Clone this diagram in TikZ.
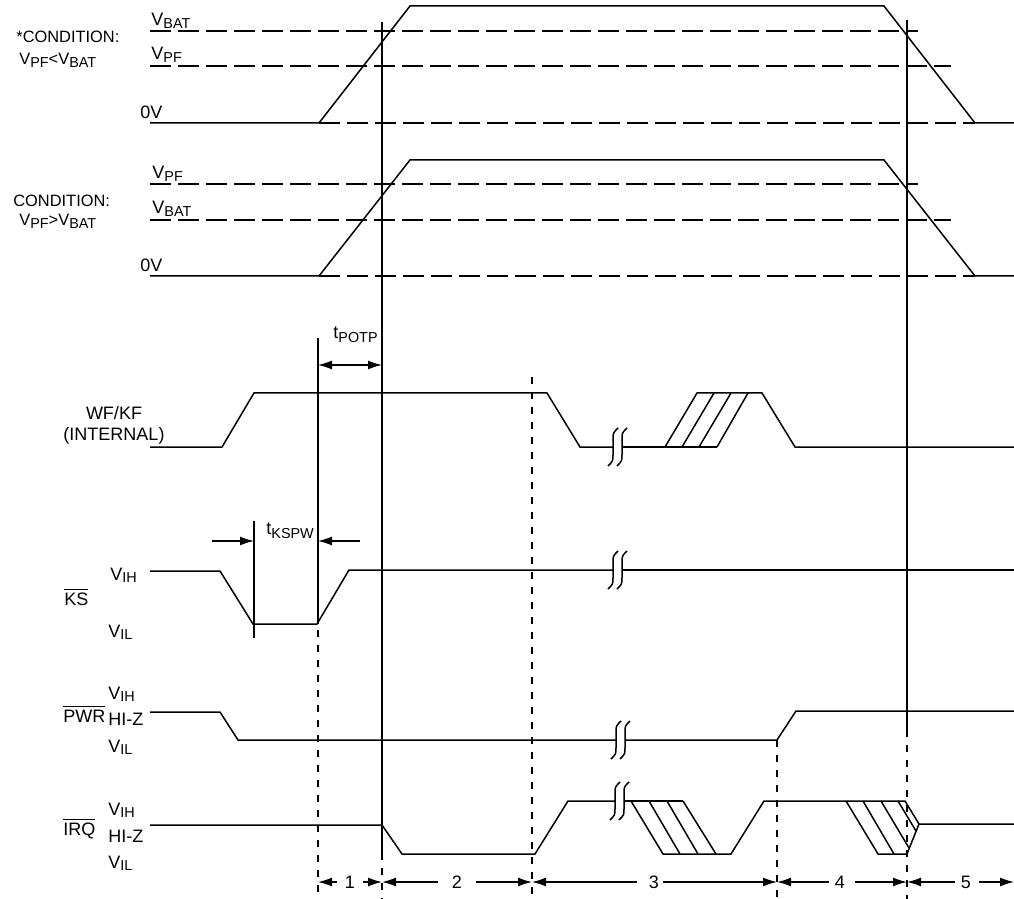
\documentclass[tikz,border=0pt]{standalone}
\usepackage{fontspec}
\setmainfont{Liberation Sans}
\usetikzlibrary{arrows.meta}
\newcommand\sub[1]{\raisebox{-1.2pt}{\fontsize{7.2}{8}\selectfont #1}}
\newcommand\tsub[1]{\raisebox{-2pt}{\fontsize{7.2}{8}\selectfont #1}}
\newcommand\ovl[1]{$\overline{\hbox{#1}}$}
\begin{document}
\begin{tikzpicture}[x=0.5pt,y=-0.5pt,
  wave/.style={line width=0.75pt, line join=miter},
  lvl/.style={line width=0.65pt, dash pattern=on 10.5pt off 3.5pt},
  vdash/.style={line width=0.7pt, dash pattern=on 3.5pt off 4pt},
  lbl/.style={inner sep=0pt, anchor=base west, font=\fontsize{9}{10}\selectfont},
  cond/.style={inner sep=0pt, anchor=base west, font=\fontsize{8.2}{9}\selectfont},
  clbl/.style={inner sep=0pt, anchor=base, font=\fontsize{9}{10}\selectfont},
  num/.style={inner sep=4pt, font=\fontsize{9}{10}\selectfont},
  dim/.style={line width=0.7pt, -{Latex[length=7pt,width=4.5pt]}},
  dimb/.style={line width=0.7pt, {Latex[length=7pt,width=4.5pt]}-{Latex[length=7pt,width=4.5pt]}},
  brk/.pic={
    \draw[wave] (-5,19) .. controls (0,14) .. (0,8) -- (0,-8) .. controls (0,-14) .. (5,-19);
    \draw[wave] (4,19) .. controls (9,14) .. (9,8) -- (9,-8) .. controls (9,-14) .. (14,-19);
  }
]
\useasboundingbox (0,0) rectangle (1014,899);

% ---------- panel 1 ----------
\node[cond] (c1) at (16,43) {*CONDITION:};
\node[cond] (c1b) at (19,65) {V\sub{PF}<V\sub{BAT}};
\node[lbl] (p1bat) at (151,26) {V\sub{BAT}};
\node[lbl] (p1pf) at (151,60) {V\sub{PF}};
\node[lbl] (p1z) at (140,119) {0V};
\draw[lvl] (150,31) -- (918,31);
\draw[lvl] (150,66) -- (951,66);
\draw[lvl] (319,123) -- (975,123);
\draw[wave] (150,123) -- (319,123) -- (410,6) -- (884,6) -- (975,123) -- (1014,123);

% ---------- panel 2 ----------
\node[cond] (c2) at (13,207) {CONDITION:};
\node[cond] (c2b) at (19,226) {V\sub{PF}>V\sub{BAT}};
\node[lbl] (p2pf) at (152,179) {V\sub{PF}};
\node[lbl] (p2bat) at (152,214) {V\sub{BAT}};
\node[lbl] (p2z) at (140,271) {0V};
\draw[lvl] (150,184) -- (918,184);
\draw[lvl] (150,220) -- (951,220);
\draw[lvl] (319,276) -- (975,276);
\draw[wave] (150,276) -- (319,276) -- (410,160) -- (884,160) -- (975,276) -- (1014,276);

% ---------- vertical reference lines ----------
\draw[wave] (382,22) -- (382,853);
\draw[vdash] (382,853) -- (382,899);
\draw[wave] (907,20) -- (907,730);
\draw[vdash] (907,730) -- (907,899);
\draw[wave] (318,338) -- (318,624);
\draw[vdash] (318,630) -- (318,899);
\draw[wave] (254,521) -- (254,638);
\draw[vdash] (532,377) -- (532,899);
\draw[vdash] (777,740) -- (777,899);

% ---------- tPOTP ----------
\node[lbl] (tpotp) at (333,338) {t\tsub{POTP}};
\coordinate (pa) at (318,365);
\coordinate (pb) at (382,365);
\draw[dimb] (pa) -- (pb);

% ---------- WF/KF ----------
\node[clbl] (wf1) at (114,420) {WF/KF};
\node[clbl] (wf2) at (114,440) {(INTERNAL)};
\draw[wave] (150,447) -- (222,447) -- (254,393) -- (547,393) -- (580,447) -- (613,447);
\pic at (613,447) {brk};
\draw[wave] (622,447) -- (717,447);
\draw[wave] (665,447) -- (697,393) -- (762,393) -- (795,447) -- (1014,447);
\draw[wave] (682,447) -- (714,393);
\draw[wave] (699,447) -- (731,393);
\draw[wave] (717,447) -- (748,393);

% ---------- KS ----------
\node[lbl] (ksh) at (110,580) {V\sub{IH}};
\node[lbl] (ks) at (64,605) {\ovl{KS}};
\node[lbl] (ksl) at (108,637) {V\sub{IL}};
\draw[wave] (150,571) -- (220,571) -- (253,624) -- (317,624) -- (349,570) -- (613,570);
\pic at (613,570) {brk};
\draw[wave] (622,570) -- (1014,570);
\node[lbl] (tkspw) at (266,534) {t\tsub{KSPW}};
\coordinate (ka) at (212,541);
\coordinate (kb) at (254,541);
\coordinate (kc) at (360,541);
\coordinate (kd) at (318,541);
\draw[dim] (ka) -- (kb);
\draw[dim] (kc) -- (kd);

% ---------- PWR ----------
\node[lbl] (pwh) at (108,699) {V\sub{IH}};
\node[lbl] (pw) at (63,722) {\ovl{PWR}};
\node[lbl] (pwz) at (108,725) {HI-Z};
\node[lbl] (pwl) at (108,752) {V\sub{IL}};
\draw[wave] (150,712) -- (220,712) -- (238,740) -- (616,740);
\pic at (616,740) {brk};
\draw[wave] (625,740) -- (777,740) -- (796,711) -- (1014,711);

% ---------- IRQ ----------
\node[lbl] (irh) at (108,815) {V\sub{IH}};
\node[lbl] (ir) at (63,835) {\ovl{IRQ}};
\node[lbl] (irz) at (108,842) {HI-Z};
\node[lbl] (irl) at (108,868) {V\sub{IL}};
\draw[wave] (150,825) -- (382,825) -- (402,854) -- (535,854) -- (568,801) -- (615,801);
\pic at (615,801) {brk};
\draw[wave] (624,801) -- (683,801);
\draw[wave] (631,801) -- (663,854) -- (716,854) -- (731,854) -- (764,801) -- (905,801) -- (919,824) -- (1014,824);
\draw[wave] (649,801) -- (680,854);
\draw[wave] (667,801) -- (698,854);
\draw[wave] (683,801) -- (716,854);
\draw[wave] (846,801) -- (878,854) -- (907,854) -- (919,824);
\draw[wave] (863,801) -- (894,854);
\draw[wave] (881,801) -- (909,848);
\draw[wave] (898,801) -- (916,831);

% ---------- interval arrows ----------
\coordinate (b1) at (318,882);
\coordinate (b2) at (382,882);
\coordinate (b3) at (532,882);
\coordinate (b4) at (777,882);
\coordinate (b5) at (907,882);
\coordinate (b6) at (1014,882);
\node[num] (i1) at (350,882) {1};
\node[num] (i2) at (457,882) {2};
\node[num] (i3) at (654,882) {3};
\node[num] (i4) at (840,882) {4};
\node[num] (i5) at (966,882) {5};
\draw[dim] (i1.west) -- (b1);
\draw[dim] (i1.east) -- (b2);
\draw[dim] ([xshift=-3pt]i2.west) -- (b2);
\draw[dim] ([xshift=3pt]i2.east) -- (b3);
\draw[dim] ([xshift=-2pt]i3.west) -- (b3);
\draw[dim] ([xshift=-2pt]i3.east) -- (b4);
\draw[dim] ([xshift=1pt]i4.west) -- (b4);
\draw[dim] ([xshift=1pt]i4.east) -- (b5);
\draw[dim] ([xshift=1pt]i5.west) -- (b5);
\draw[dim] (i5.east) -- (b6);
\end{tikzpicture}
\end{document}
